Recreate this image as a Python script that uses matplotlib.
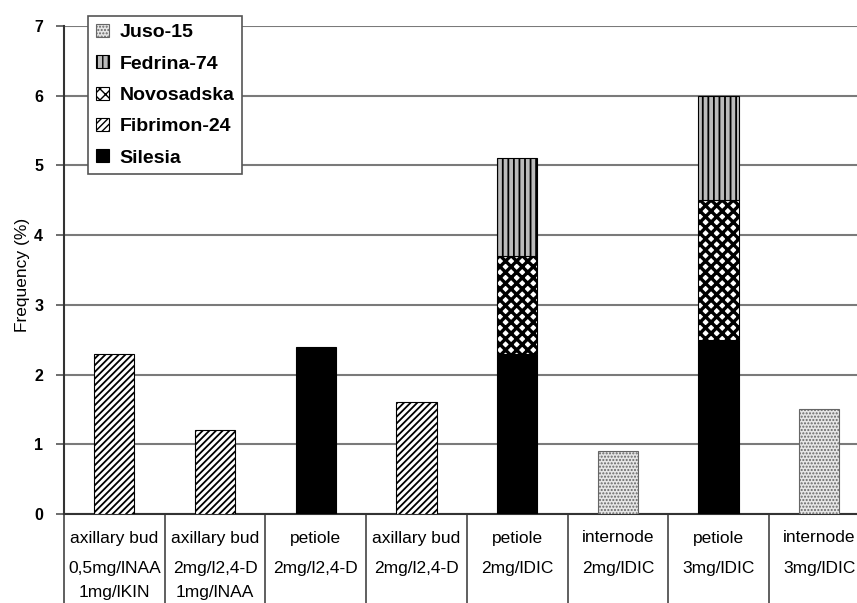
import matplotlib.pyplot as plt
import matplotlib.patches as mpatches
import numpy as np

plt.rcParams['font.family'] = ['Liberation Sans', 'DejaVu Sans']

# dados
tecido = ["axillary bud", "axillary bud", "petiole", "axillary bud",
          "petiole", "internode", "petiole", "internode"]
meio1 = ["0,5mg/lNAA", "2mg/l2,4-D", "2mg/l2,4-D", "2mg/l2,4-D",
         "2mg/lDIC", "2mg/lDIC", "3mg/lDIC", "3mg/lDIC"]
meio2 = ["1mg/lKIN", "1mg/lNAA", "", "", "", "", "", ""]

silesia = [0, 0, 2.4, 0, 2.3, 0, 2.5, 0]
fibrimon = [2.3, 1.2, 0, 1.6, 0, 0, 0, 0]
novosadska = [0, 0, 0, 0, 1.4, 0, 2.0, 0]
fedrina = [0, 0, 0, 0, 1.4, 0, 1.5, 0]
juso = [0, 0, 0, 0, 0, 0.9, 0, 1.5]

yticks = [0, 1, 2, 3, 4, 5, 6, 7]

fig = plt.figure(figsize=(8.57, 6.03), dpi=100)
ax = fig.add_axes([64/857, 1 - 514/603, 805.6/857, 488/603])

x = np.arange(len(tecido))
w = 0.4

# estilos de cada serie (cor, hachura, cor da borda, espessura da hachura)
series = [
    ("Silesia", silesia, 'black', None, 'black', 1.0),
    ("Fibrimon-24", fibrimon, 'white', '/////', 'black', 1.3),
    ("Novosadska", novosadska, 'white', 'xxx', 'black', 2.4),
    ("Fedrina-74", fedrina, '#bbbbbb', '|||', 'black', 1.3),
    ("Juso-15", juso, '#e6e6e6', '.....', '#666666', 1.0),
]

base = np.zeros(len(tecido))
handles = []
for nome, vals, fc, ht, ec, hl in series:
    v = np.array(vals, dtype=float)
    with plt.rc_context({'hatch.linewidth': hl}):
        idx = v > 0
        ax.bar(x[idx], v[idx], w, bottom=base[idx], color=fc, hatch=ht,
               edgecolor=ec, linewidth=0.8, zorder=3)
        handles.append(mpatches.Patch(facecolor=fc, hatch=ht, edgecolor=ec,
                                      linewidth=0.8, label=nome))
    base += v

ax.set_xlim(-0.5, len(tecido) - 0.5)
ax.set_ylim(0, 7)
ax.set_yticks(yticks)
ax.set_yticklabels([str(t) for t in yticks], fontweight='bold', fontsize=11.5)
ax.set_xticks([])
ax.yaxis.grid(True, color='#7a7a7a', linewidth=1.5, zorder=0)
ax.set_axisbelow(True)
ax.tick_params(axis='y', length=6, width=1.2, color='#555555', pad=9)
for s in ['top', 'right']:
    ax.spines[s].set_visible(False)
ax.spines['left'].set_color('#333333')
ax.spines['left'].set_linewidth(1.5)
ax.spines['bottom'].set_color('#333333')
ax.spines['bottom'].set_linewidth(1.5)

ax.set_ylabel("Frequency (%)", fontsize=12.5)
ax.yaxis.set_label_coords(-34/805.6, 0.49)

# tabela de categorias abaixo do eixo
trans = ax.get_xaxis_transform()
for k in range(len(tecido) + 1):
    ax.plot([k - 0.5, k - 0.5], [0, -0.25], transform=trans, color='#444444',
            linewidth=1.2, clip_on=False)
for i in range(len(tecido)):
    ax.text(i, -24/488, tecido[i], transform=trans, ha='center', va='center',
            fontsize=12.5, clip_on=False)
    ax.text(i, -54/488, meio1[i], transform=trans, ha='center', va='center',
            fontsize=12.5, clip_on=False)
    ax.text(i, -78/488, meio2[i], transform=trans, ha='center', va='center',
            fontsize=12.5, clip_on=False)

leg = ax.legend(handles[::-1], [s[0] for s in series][::-1], loc='upper left',
                bbox_to_anchor=(0.03, 1.02), borderaxespad=0, fancybox=False,
                edgecolor='#555555', framealpha=1,
                prop={'weight': 'bold', 'size': 14},
                handlelength=0.65, handleheight=0.65, handletextpad=0.55,
                labelspacing=0.72, borderpad=0.4)
leg.get_frame().set_linewidth(1.2)
leg.set_zorder(5)

fig.savefig("out.png", dpi=100)
